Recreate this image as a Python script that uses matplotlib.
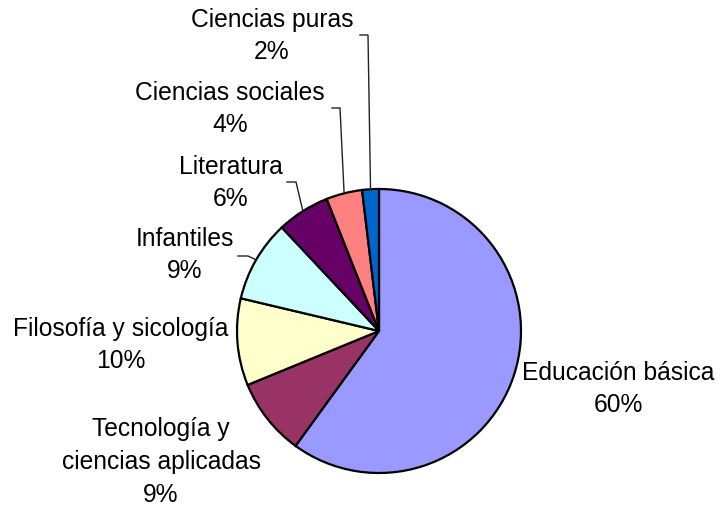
import numpy as np
import matplotlib
matplotlib.use("Agg")
import matplotlib.pyplot as plt

# data (clockwise from 12 o'clock)
labels = ["Educación básica", "Tecnología y\nciencias aplicadas", "Filosofía y sicología",
          "Infantiles", "Literatura", "Ciencias sociales", "Ciencias puras"]
values = [60.0, 8.8, 9.9, 9.3, 6.0, 4.1, 1.9]
colors = ["#9999FF", "#993366", "#FFFFCC", "#CCFFFF", "#660066", "#FF8080", "#0066CC"]

# layout in pixels (y measured from top of the image)
W, H = 723, 508
cx, cy, rad = 379, 331, 142
label_pos = [(618, 389), (161, 462), (121, 345), (185, 255), (231, 183), (230, 109), (272, 36)]
# leader lines: (elbow x, elbow y, end x) or None
leaders = [None, None, None, (248, 256, 238), (296, 182, 287), (340, 108, 332), (368, 35, 360)]

plt.rcParams['font.family'] = ['Liberation Sans', 'DejaVu Sans']

fig = plt.figure(figsize=(W / 100, H / 100), dpi=100)
ax = fig.add_axes([0, 0, 1, 1])

wedges, _ = ax.pie(values, colors=colors, startangle=90, counterclock=False,
                   center=(cx, H - cy), radius=rad,
                   wedgeprops=dict(edgecolor='black', linewidth=1.6))

total = sum(values)
for w, lab, v, pos, ld in zip(wedges, labels, values, label_pos, leaders):
    ax.text(pos[0], H - pos[1], "%s\n%.0f%%" % (lab, v / total * 100),
            ha='center', va='center', fontsize=17.7, linespacing=1.45, color='black')
    if ld is not None:
        th = np.deg2rad((w.theta1 + w.theta2) / 2)
        ax_ = cx + rad * np.cos(th)
        ay_ = (H - cy) + rad * np.sin(th)
        ex, ey, hx = ld
        ax.plot([ax_, ex, hx], [ay_, H - ey, H - ey], color='#222222', linewidth=1.0,
                solid_joinstyle='miter')

ax.set_xlim(0, W)
ax.set_ylim(0, H)
ax.set_aspect('equal')
ax.axis('off')

fig.savefig("out.png", dpi=100, facecolor='white')
